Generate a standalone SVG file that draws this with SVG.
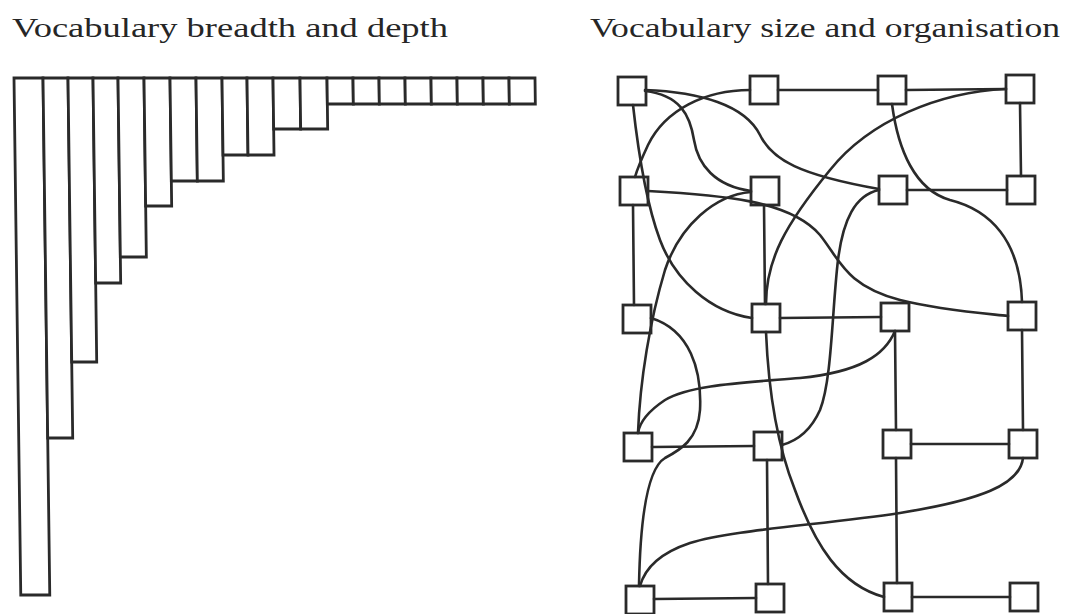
<svg xmlns="http://www.w3.org/2000/svg" width="1066" height="614" viewBox="0 0 1066 614">
<style>
.t{font-family:"Liberation Serif","Times New Roman",serif;font-size:28px;fill:#262626}
.bar{fill:#fff;stroke:#2a2a2a;stroke-width:2.8}
.nd{fill:#fff;stroke:#2a2a2a;stroke-width:2.8}
.cn{fill:none;stroke:#2a2a2a;stroke-width:2.6;stroke-linecap:round}
</style>
<rect width="1066" height="614" fill="#fff"/>
<text class="t" x="12" y="37" textLength="436" lengthAdjust="spacingAndGlyphs">Vocabulary breadth and depth</text>
<text class="t" x="590" y="37" textLength="470" lengthAdjust="spacingAndGlyphs">Vocabulary size and organisation</text>
<g id="bars" transform="translate(0,78) skewX(0.75) translate(0,-78)">
<rect class="bar" x="14" y="78" width="29" height="517"/>
<rect class="bar" x="43" y="78" width="25" height="360"/>
<rect class="bar" x="68" y="78" width="25" height="284"/>
<rect class="bar" x="93" y="78" width="25" height="205"/>
<rect class="bar" x="118" y="78" width="26" height="179"/>
<rect class="bar" x="144" y="78" width="26" height="128"/>
<rect class="bar" x="170" y="78" width="26" height="103"/>
<rect class="bar" x="196" y="78" width="26" height="103"/>
<rect class="bar" x="222" y="78" width="25" height="77"/>
<rect class="bar" x="247" y="78" width="26" height="77"/>
<rect class="bar" x="273" y="78" width="27" height="51"/>
<rect class="bar" x="300" y="78" width="27" height="51"/>
<rect class="bar" x="327" y="78" width="26" height="26"/>
<rect class="bar" x="353" y="78" width="26" height="26"/>
<rect class="bar" x="379" y="78" width="26" height="26"/>
<rect class="bar" x="405" y="78" width="26" height="26"/>
<rect class="bar" x="431" y="78" width="26" height="26"/>
<rect class="bar" x="457" y="78" width="26" height="26"/>
<rect class="bar" x="483" y="78" width="26" height="26"/>
<rect class="bar" x="509" y="78" width="26" height="26"/>
</g>
<g id="nodes">
<g id="A1"><rect class="nd" x="618" y="77" width="28" height="28"/></g>
<g id="A2"><rect class="nd" x="750" y="76" width="28" height="28"/></g>
<g id="A3"><rect class="nd" x="878" y="76" width="28" height="28"/></g>
<g id="A4"><rect class="nd" x="1006" y="75" width="28" height="28"/></g>
<g id="B1"><rect class="nd" x="620" y="177" width="28" height="28"/></g>
<g id="B2"><rect class="nd" x="751" y="177" width="28" height="28"/></g>
<g id="B3"><rect class="nd" x="879" y="176" width="28" height="28"/></g>
<g id="B4"><rect class="nd" x="1007" y="176" width="28" height="28"/></g>
<g id="C1"><rect class="nd" x="623" y="305" width="28" height="28"/></g>
<g id="C2"><rect class="nd" x="752" y="304" width="28" height="28"/></g>
<g id="C3"><rect class="nd" x="881" y="303" width="28" height="28"/></g>
<g id="C4"><rect class="nd" x="1008" y="302" width="28" height="28"/></g>
<g id="D1"><rect class="nd" x="624" y="433" width="28" height="28"/></g>
<g id="D2"><rect class="nd" x="754" y="432" width="28" height="28"/></g>
<g id="D3"><rect class="nd" x="883" y="430" width="28" height="28"/></g>
<g id="D4"><rect class="nd" x="1009" y="430" width="28" height="28"/></g>
<g id="E1"><rect class="nd" x="626" y="586" width="28" height="28"/></g>
<g id="E2"><rect class="nd" x="756" y="584" width="28" height="28"/></g>
<g id="E3"><rect class="nd" x="884" y="583" width="28" height="28"/></g>
<g id="E4"><rect class="nd" x="1010" y="583" width="28" height="28"/></g>
</g>
<g id="connectors">
<path class="cn" d="M778,90 L878,90"/>
<path class="cn" d="M906,90 L1006,89"/>
<path class="cn" d="M1020,103 L1021,176"/>
<path class="cn" d="M633,205 L634,305"/>
<path class="cn" d="M764,205 L765,304"/>
<path class="cn" d="M907,190 L1007,190"/>
<path class="cn" d="M780,318 L881,317"/>
<path class="cn" d="M895,331 L896,430"/>
<path class="cn" d="M1022,330 L1023,430"/>
<path class="cn" d="M652,447 L754,446"/>
<path class="cn" d="M911,444 L1009,444"/>
<path class="cn" d="M767,460 L768,584"/>
<path class="cn" d="M896,458 L897,583"/>
<path class="cn" d="M654,599 L756,598"/>
<path class="cn" d="M912,597 L1010,597"/>
<path class="cn" d="M645,91 C680,95 690,115 694,140 C698,165 715,186 751,191"/>
<path class="cn" d="M645,90 C700,92 745,105 760,135 C772,160 800,175 879,189"/>
<path class="cn" d="M633,105 C638,150 645,200 660,240 C675,280 710,312 752,318"/>
<path class="cn" d="M750,90 C705,90 665,110 648,145 C641,160 637,170 635,177"/>
<path class="cn" d="M892,104 C898,150 915,190 950,200 C990,210 1020,240 1022,302"/>
<path class="cn" d="M1006,89 C940,92 870,120 830,170 C785,225 766,260 766,304"/>
<path class="cn" d="M648,191 C720,195 790,200 820,235 C840,260 845,285 900,300 C940,310 980,313 1008,316"/>
<path class="cn" d="M751,192 C715,195 680,225 665,270 C650,320 640,380 638,433"/>
<path class="cn" d="M879,190 C855,195 843,220 838,260 C832,310 832,380 820,410 C812,428 800,440 782,445"/>
<path class="cn" d="M651,318 C690,330 702,370 700,410 C698,440 680,450 665,458 C645,470 640,530 639,586"/>
<path class="cn" d="M766,332 C768,380 775,440 795,490 C815,545 840,585 884,597"/>
<path class="cn" d="M895,331 C885,355 860,372 800,378 C740,383 690,385 665,400 C650,410 640,420 638,433"/>
<path class="cn" d="M1023,458 C1020,485 980,500 900,513 C820,525 730,530 690,543 C660,553 645,568 640,586"/>
</g>
</svg>
